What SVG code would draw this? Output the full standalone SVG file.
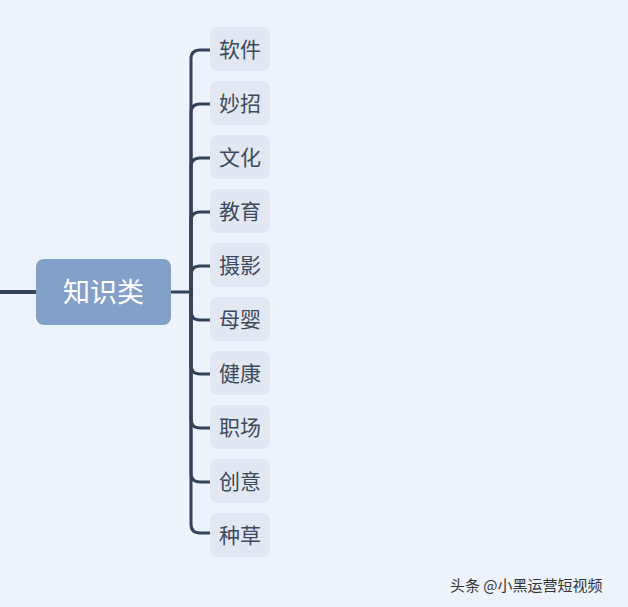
<svg xmlns="http://www.w3.org/2000/svg" width="628" height="607" viewBox="0 0 628 607">
<style>
.c{fill:none;stroke:#34435a;stroke-width:3;stroke-linecap:round}
.b{fill:#e2e8f1}
.t{font-family:"Noto Sans CJK SC","Noto Sans",sans-serif;font-size:21px;fill:#3c4a5e;text-anchor:middle}
</style>
<rect width="628" height="607" fill="#edf3fa"/>
<g id="connectors">
<path d="M0,292 H36" style="fill:none;stroke:#34435a;stroke-width:4"/>
<path d="M171,292 H191" style="fill:none;stroke:#34435a;stroke-width:3"/>
<path class="c" d="M191,292 V59 Q191,50 200,50 H210"/>
<path class="c" d="M191,292 V113 Q191,104 200,104 H210"/>
<path class="c" d="M191,292 V167 Q191,158 200,158 H210"/>
<path class="c" d="M191,292 V221 Q191,212 200,212 H210"/>
<path class="c" d="M191,292 V275 Q191,266 200,266 H210"/>
<path class="c" d="M191,292 V311 Q191,320 200,320 H210"/>
<path class="c" d="M191,292 V365 Q191,374 200,374 H210"/>
<path class="c" d="M191,292 V419 Q191,428 200,428 H210"/>
<path class="c" d="M191,292 V473 Q191,482 200,482 H210"/>
<path class="c" d="M191,292 V524 Q191,533 200,533 H210"/>
</g>
<g id="root">
<rect x="36" y="259" width="135" height="66" rx="8" fill="#83a1c8"/>
<text x="103.5" y="302" style="font-family:'Noto Sans CJK SC','Noto Sans',sans-serif;font-size:27px;fill:#ffffff;text-anchor:middle">知识类</text>
</g>
<g id="n1"><rect class="b" x="210" y="27" width="60" height="44" rx="7"/><text class="t" x="240" y="57">软件</text></g>
<g id="n2"><rect class="b" x="210" y="81" width="60" height="44" rx="7"/><text class="t" x="240" y="111">妙招</text></g>
<g id="n3"><rect class="b" x="210" y="135" width="60" height="44" rx="7"/><text class="t" x="240" y="165">文化</text></g>
<g id="n4"><rect class="b" x="210" y="189" width="60" height="44" rx="7"/><text class="t" x="240" y="219">教育</text></g>
<g id="n5"><rect class="b" x="210" y="243" width="60" height="44" rx="7"/><text class="t" x="240" y="273">摄影</text></g>
<g id="n6"><rect class="b" x="210" y="297" width="60" height="44" rx="7"/><text class="t" x="240" y="327">母婴</text></g>
<g id="n7"><rect class="b" x="210" y="351" width="60" height="44" rx="7"/><text class="t" x="240" y="381">健康</text></g>
<g id="n8"><rect class="b" x="210" y="405" width="60" height="44" rx="7"/><text class="t" x="240" y="435">职场</text></g>
<g id="n9"><rect class="b" x="210" y="459" width="60" height="44" rx="7"/><text class="t" x="240" y="489">创意</text></g>
<g id="n10"><rect class="b" x="210" y="513" width="60" height="44" rx="7"/><text class="t" x="240" y="543">种草</text></g>
<text x="450" y="591" style="font-family:'Noto Sans CJK SC','Noto Sans',sans-serif;font-size:15px;fill:#333333">头条 @小黑运营短视频</text>
</svg>
